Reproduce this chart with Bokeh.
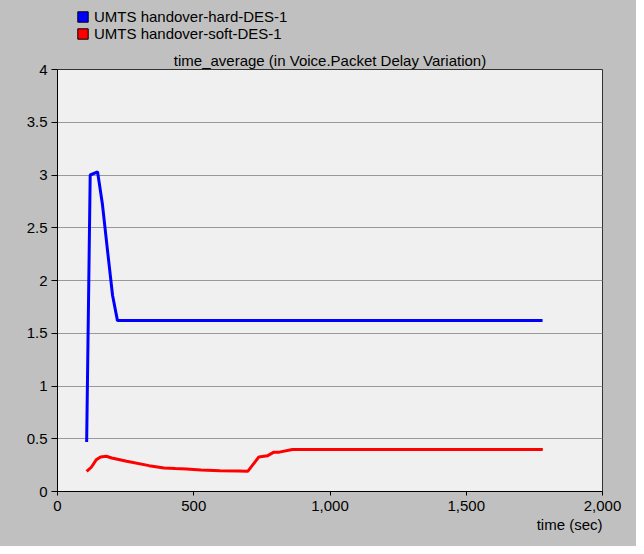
from bokeh.plotting import figure
from bokeh.layouts import column
from bokeh.models import (Legend, LegendItem, Title, NumeralTickFormatter,
                          FixedTicker, Range1d)
from bokeh.embed import file_html
from bokeh.resources import INLINE

# ---- data ----
series_names = ["UMTS handover-hard-DES-1", "UMTS handover-soft-DES-1"]
series_colors = ["#0000ff", "#ff0000"]

hard_t = [107, 120, 147, 165, 185, 202, 220, 400, 800, 1200, 1780]
hard_v = [0.47, 3.00, 3.03, 2.72, 2.25, 1.86, 1.62, 1.62, 1.62, 1.62, 1.62]

soft_t = [107, 124, 142, 158, 179, 199, 254, 336, 391, 432, 473, 527, 596,
          664, 698, 739, 770, 794, 814, 862, 1200, 1781]
soft_v = [0.19, 0.23, 0.30, 0.328, 0.334, 0.318, 0.287, 0.245, 0.223, 0.217,
          0.213, 0.204, 0.197, 0.194, 0.191, 0.328, 0.338, 0.373, 0.373,
          0.398, 0.398, 0.398]

x_ticks = [0, 500, 1000, 1500, 2000]
y_ticks = [0, 0.5, 1, 1.5, 2, 2.5, 3, 3.5, 4]
y_tick_labels = ["0", "0.5", "1", "1.5", "2", "2.5", "3", "3.5", "4"]

chart_title = "time_average (in Voice.Packet Delay Variation)"
x_label = "time (sec)"

FONT = "Liberation Sans"
BG = "#c0c0c0"
NAN = float("nan")

# ---- legend strip (separate figure above the chart) ----
lg = figure(width=636, height=48, x_range=Range1d(0, 1), y_range=Range1d(0, 1),
            output_backend="svg", toolbar_location=None,
            x_axis_location=None, y_axis_location=None,
            min_border_left=57, min_border_right=34,
            min_border_top=0, min_border_bottom=0,
            background_fill_color=BG, border_fill_color=BG,
            outline_line_color=None)
lg.grid.visible = False

# swatches only (NaN data: nothing is drawn in the plot area)
q_hard = lg.quad(left=[NAN], right=[NAN], top=[NAN], bottom=[NAN],
                 fill_color=series_colors[0], line_color="#000000")
q_soft = lg.quad(left=[NAN], right=[NAN], top=[NAN], bottom=[NAN],
                 fill_color=series_colors[1], line_color="#000000")

legend = Legend(items=[LegendItem(label=series_names[0], renderers=[q_hard]),
                       LegendItem(label=series_names[1], renderers=[q_soft])],
                location=(19, 6), orientation="vertical",
                glyph_width=13, glyph_height=13, label_standoff=5,
                label_height=17, spacing=0, padding=0, margin=0,
                label_text_font=FONT, label_text_font_size="15px",
                label_text_color="#000000",
                background_fill_alpha=0, border_line_alpha=0)
lg.add_layout(legend)

# ---- main chart ----
p = figure(width=636, height=498,
           x_range=Range1d(0, 2000), y_range=Range1d(0, 4),
           output_backend="svg", toolbar_location=None,
           min_border_left=57, min_border_right=34,
           min_border_top=21, min_border_bottom=55,
           background_fill_color="#f0f0f0", border_fill_color=BG,
           title=chart_title)

p.title.align = "center"
p.title.offset = -15
p.title.text_font = FONT
p.title.text_font_size = "15px"
p.title.text_font_style = "normal"
p.title.text_color = "#000000"
p.title.standoff = 2

p.line(hard_t, hard_v, line_color=series_colors[0], line_width=3)
p.line(soft_t, soft_v, line_color=series_colors[1], line_width=3)

p.xaxis.ticker = FixedTicker(ticks=x_ticks)
p.xaxis.formatter = NumeralTickFormatter(format="0,0")
p.yaxis.ticker = FixedTicker(ticks=y_ticks)
p.yaxis.major_label_overrides = {t: l for t, l in zip(y_ticks, y_tick_labels)}

for ax in (p.xaxis, p.yaxis):
    ax.axis_line_color = "#000000"
    ax.major_tick_line_color = "#000000"
    ax.minor_tick_line_color = None
    ax.major_tick_in = 0
    ax.major_label_text_font = FONT
    ax.major_label_text_font_size = "15px"
    ax.major_label_text_color = "#000000"
p.xaxis.major_tick_out = 4
p.yaxis.major_tick_out = 6
p.xaxis.major_label_standoff = 5
p.yaxis.major_label_standoff = 4

xt = Title(text=x_label, align="right", text_font=FONT,
           text_font_size="15px", text_font_style="normal",
           text_color="#000000", standoff=0)
p.add_layout(xt, "below")

p.xgrid.visible = False
p.ygrid.grid_line_color = "#999999"
p.ygrid.grid_line_width = 1
p.outline_line_color = "#333333"
p.outline_line_width = 1

layout = column(lg, p, spacing=0, styles={"background-color": BG})
open("out.html", "w").write(file_html(layout, INLINE))
